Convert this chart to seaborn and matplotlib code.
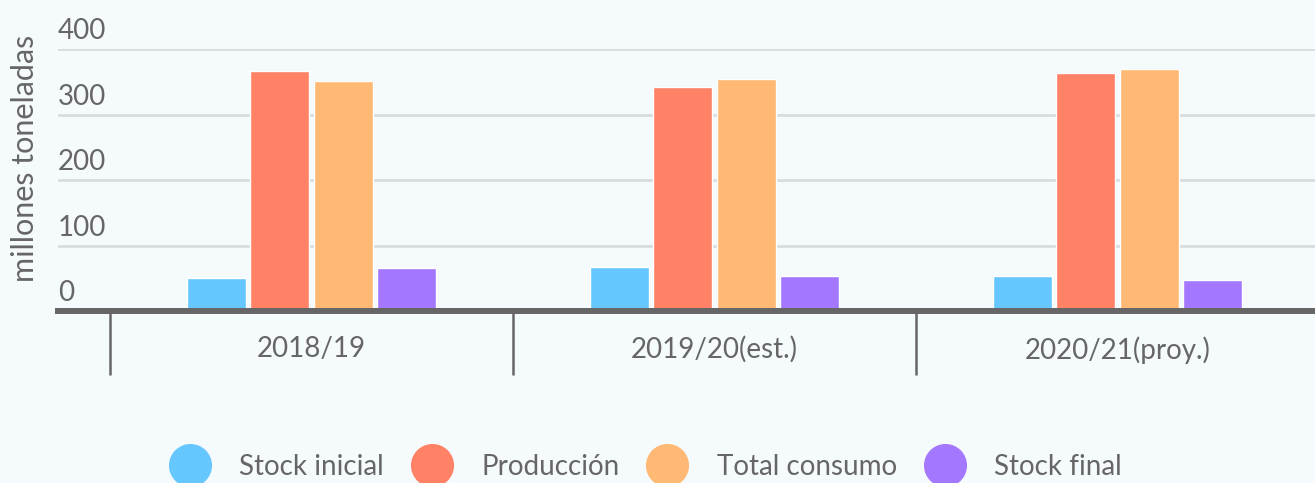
import matplotlib
matplotlib.use("Agg")
import matplotlib.pyplot as plt
import seaborn as sns
import pandas as pd
from matplotlib.lines import Line2D
from matplotlib import transforms

# ---- data ----
campanas = ["2018/19", "2019/20(est.)", "2020/21(proy.)"]
series = ["Stock inicial", "Producción", "Total consumo", "Stock final"]
stock_inicial = [51, 67, 54]
produccion = [367, 342, 364]
total_consumo = [351, 354, 370]
stock_final = [66, 54, 48]
colores = ["#66c7ff", "#ff8166", "#ffb974", "#a378ff"]
y_ticks = [0, 100, 200, 300, 400]
y_label = "millones toneladas"

valores = [stock_inicial, produccion, total_consumo, stock_final]
rows = []
for s, vals in zip(series, valores):
    for c, v in zip(campanas, vals):
        rows.append({"campana": c, "serie": s, "valor": v})
df = pd.DataFrame(rows)

sns.set_theme(style="white")
plt.rcParams["font.family"] = ["Lato", "DejaVu Sans"]
TXT = "#666666"
BG = "#f5fafd"
FW = "normal"

W, H = 1315, 483
fig = plt.figure(figsize=(W / 100, H / 100), dpi=100, facecolor=BG)
ax = fig.add_axes([58 / W, 1 - 311 / H, 1 - 58 / W, (311 - 49.3) / H])
ax.set_facecolor(BG)

sns.barplot(data=df, x="campana", y="valor", hue="serie", order=campanas,
            hue_order=series, palette=dict(zip(series, colores)),
            width=0.63, gap=0.073, saturation=1, legend=False, ax=ax, zorder=2)

ax.set_xlim(-0.629, 2.49)
ax.set_ylim(0, 400)
ax.set_xlabel("")
ax.set_ylabel("")

for sp in ["top", "right", "left"]:
    ax.spines[sp].set_visible(False)
ax.spines["bottom"].set_color(TXT)
ax.spines["bottom"].set_linewidth(4.3)
ax.spines["bottom"].set_zorder(5)

ax.set_yticks(y_ticks)
ax.yaxis.grid(True, color="#d8dcde", linewidth=2.0, zorder=0)
ax.set_axisbelow(True)
ax.tick_params(axis="y", length=0, labelleft=False)

# y tick labels above gridlines, left-aligned
trans = transforms.blended_transform_factory(ax.transAxes, ax.transData)
offset = transforms.offset_copy(trans, fig=fig, x=0, y=10, units="dots")
for t in y_ticks:
    ax.text(0, t, str(t), transform=offset, ha="left", va="baseline",
            fontsize=20, color=TXT, fontweight=FW, clip_on=False)

# x axis ticks: labels at categories, tick marks at boundaries
ax.set_xticks([0, 1, 2])
ax.set_xticklabels(campanas, fontsize=20, color=TXT, fontweight=FW)
ax.tick_params(axis="x", which="major", bottom=True, length=0, pad=18)
ax.set_xticks([-0.5, 0.5, 1.5], minor=True)
ax.tick_params(axis="x", which="minor", bottom=True, length=46, width=1.8,
               color=TXT, direction="out")

fig.text(25 / W, 1 - 158 / H, y_label, rotation=90, ha="center", va="center",
         fontsize=22, color=TXT, fontweight=FW)

handles = [Line2D([0], [0], marker="o", linestyle="none", markersize=30,
                  markerfacecolor=c, markeredgecolor=c) for c in colores]
leg = fig.legend(handles, series, ncol=4, loc="center",
                 bbox_to_anchor=(645 / W, 1 - 467 / H), frameon=False,
                 fontsize=20, handlelength=1.55, handletextpad=1.0,
                 columnspacing=0.95, labelcolor=TXT)
for t in leg.get_texts():
    t.set_fontweight(FW)

fig.savefig("out.png", dpi=100, facecolor=BG)
